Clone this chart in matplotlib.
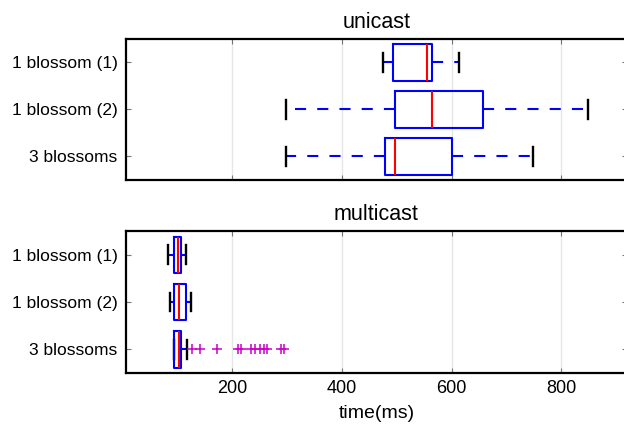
import matplotlib

matplotlib.use('agg')

import matplotlib.pyplot as plt

plt.rcParams['font.family'] = ['Liberation Sans', 'DejaVu Sans']
plt.rcParams['lines.scale_dashes'] = False

labels = ['1 blossom (1)', '1 blossom (2)', '3 blossoms']

# unicast latency summary (ms): whisker low, q1, median, q3, whisker high
uni_lo = [475, 298, 298]
uni_q1 = [494, 496, 478]
uni_med = [556, 564, 496]
uni_q3 = [564, 658, 600]
uni_hi = [613, 849, 748]

# multicast latency summary (ms)
multi_lo = [83, 87, 94]
multi_q1 = [94, 94, 94]
multi_med = [101, 104, 104]
multi_q3 = [106, 116, 106]
multi_hi = [116, 125, 117]
multi_outliers = [[], [], [127, 141, 173, 211, 216, 234, 242, 250, 258, 263,
                          289, 295]]

xticks = [200, 400, 600, 800]


def make_stats(lo, q1, med, q3, hi, outliers=None):
    stats = []
    for i in range(len(lo)):
        stats.append({'whislo': lo[i], 'q1': q1[i], 'med': med[i],
                      'q3': q3[i], 'whishi': hi[i],
                      'fliers': outliers[i] if outliers else []})
    return stats


def draw_panel(ax, stats, title):
    ax.bxp(stats, positions=[1, 2, 3], orientation='horizontal', widths=0.77,
           capwidths=0.4, showfliers=True,
           boxprops=dict(color='#0000ff', linewidth=1.5, zorder=3),
           medianprops=dict(color='#ff0000', linewidth=1.5, zorder=4),
           whiskerprops=dict(color='#0000ff', linewidth=1.5,
                             linestyle=(0, (8, 8))),
           capprops=dict(color='black', linewidth=1.7, zorder=2),
           flierprops=dict(marker='+', markeredgecolor='#cc00cc',
                           markersize=7, markeredgewidth=1.1,
                           linestyle='none'))
    ax.set_ylim(3.5, 0.5)
    ax.set_xlim(6, 920)
    ax.set_yticks([1, 2, 3])
    ax.set_yticklabels(labels, fontsize=12.5)
    ax.set_xticks(xticks)
    ax.grid(axis='x', color='#e6e6e6', linewidth=1.0)
    ax.set_axisbelow(True)
    ax.tick_params(direction='in', length=3.5, color='#777777', top=True,
                   right=True, pad=6)
    ax.tick_params(axis='x', labelsize=13, pad=5)
    for s in ax.spines.values():
        s.set_linewidth(1.6)
    ax.set_title(title, fontsize=15.5, pad=8)


fig = plt.figure(figsize=(6.24, 4.30), dpi=100)
ax1 = fig.add_axes([0.2015, 0.5814, 0.8035, 0.328])
ax2 = fig.add_axes([0.2015, 0.1326, 0.8035, 0.330])

draw_panel(ax1, make_stats(uni_lo, uni_q1, uni_med, uni_q3, uni_hi), 'unicast')
draw_panel(ax2, make_stats(multi_lo, multi_q1, multi_med, multi_q3, multi_hi,
                           multi_outliers), 'multicast')
ax1.set_xticklabels([])
ax2.set_xlabel('time(ms)', fontsize=14, labelpad=6)

fig.savefig('out.png', dpi=100)
